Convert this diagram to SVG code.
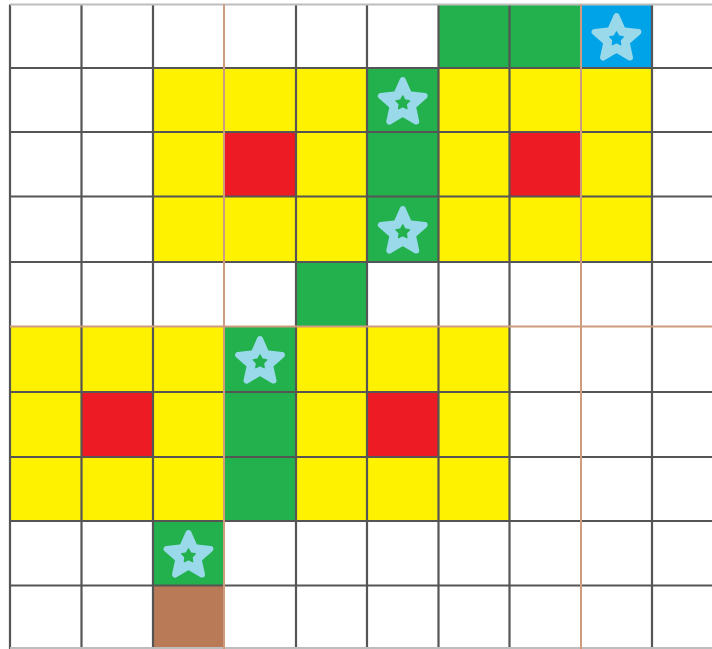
<svg xmlns="http://www.w3.org/2000/svg" xmlns:xlink="http://www.w3.org/1999/xlink" width="712" height="649" viewBox="0 0 712 649">
<style>
.y{fill:#FFF200}.r{fill:#ED1C24}.g{fill:#22B14C}.b{fill:#00A2E8}.br{fill:#B97A57}
.gl{stroke:#555555;stroke-width:2.2;fill:none}
.ol{stroke:#CF9B7F;stroke-width:2;fill:none}
.star{fill:#99D9EA;stroke:#99D9EA;stroke-width:6;stroke-linejoin:round}
.hole{stroke-width:1.2;stroke-linejoin:round}
</style>
<defs>
<path id="star" class="star" d="M0,-23 L6.3,-8.7 L21.9,-7.1 L10.2,3.3 L13.5,18.6 L0,10.7 L-13.5,18.6 L-10.2,3.3 L-21.9,-7.1 L-6.3,-8.7 Z"/>
<path id="hole" d="M0,-7.2 L2.23,-3.07 L6.85,-2.22 L3.61,1.17 L4.23,5.82 L0,3.8 L-4.23,5.82 L-3.61,1.17 L-6.85,-2.22 L-2.23,-3.07 Z"/>
</defs>
<rect width="712" height="649" fill="#ffffff"/>
<g id="cells">
<rect class="g" x="438.5" y="4.5" width="71" height="63.5"/>
<rect class="g" x="509.5" y="4.5" width="71.5" height="63.5"/>
<rect class="b" x="581" y="4.5" width="71" height="63.5"/>
<rect class="y" x="153" y="68" width="71" height="64"/>
<rect class="y" x="224" y="68" width="72" height="64"/>
<rect class="y" x="296" y="68" width="71" height="64"/>
<rect class="g" x="367" y="68" width="71.5" height="64"/>
<rect class="y" x="438.5" y="68" width="71" height="64"/>
<rect class="y" x="509.5" y="68" width="71.5" height="64"/>
<rect class="y" x="581" y="68" width="71" height="64"/>
<rect class="y" x="153" y="132" width="71" height="64.5"/>
<rect class="r" x="224" y="132" width="72" height="64.5"/>
<rect class="y" x="296" y="132" width="71" height="64.5"/>
<rect class="g" x="367" y="132" width="71.5" height="64.5"/>
<rect class="y" x="438.5" y="132" width="71" height="64.5"/>
<rect class="r" x="509.5" y="132" width="71.5" height="64.5"/>
<rect class="y" x="581" y="132" width="71" height="64.5"/>
<rect class="y" x="153" y="196.5" width="71" height="65.5"/>
<rect class="y" x="224" y="196.5" width="72" height="65.5"/>
<rect class="y" x="296" y="196.5" width="71" height="65.5"/>
<rect class="g" x="367" y="196.5" width="71.5" height="65.5"/>
<rect class="y" x="438.5" y="196.5" width="71" height="65.5"/>
<rect class="y" x="509.5" y="196.5" width="71.5" height="65.5"/>
<rect class="y" x="581" y="196.5" width="71" height="65.5"/>
<rect class="g" x="296" y="262" width="71" height="64.5"/>
<rect class="y" x="10" y="326.5" width="71.5" height="65.5"/>
<rect class="y" x="81.5" y="326.5" width="71.5" height="65.5"/>
<rect class="y" x="153" y="326.5" width="71" height="65.5"/>
<rect class="g" x="224" y="326.5" width="72" height="65.5"/>
<rect class="y" x="296" y="326.5" width="71" height="65.5"/>
<rect class="y" x="367" y="326.5" width="71.5" height="65.5"/>
<rect class="y" x="438.5" y="326.5" width="71" height="65.5"/>
<rect class="y" x="10" y="392" width="71.5" height="65"/>
<rect class="r" x="81.5" y="392" width="71.5" height="65"/>
<rect class="y" x="153" y="392" width="71" height="65"/>
<rect class="g" x="224" y="392" width="72" height="65"/>
<rect class="y" x="296" y="392" width="71" height="65"/>
<rect class="r" x="367" y="392" width="71.5" height="65"/>
<rect class="y" x="438.5" y="392" width="71" height="65"/>
<rect class="y" x="10" y="457" width="71.5" height="64"/>
<rect class="y" x="81.5" y="457" width="71.5" height="64"/>
<rect class="y" x="153" y="457" width="71" height="64"/>
<rect class="g" x="224" y="457" width="72" height="64"/>
<rect class="y" x="296" y="457" width="71" height="64"/>
<rect class="y" x="367" y="457" width="71.5" height="64"/>
<rect class="y" x="438.5" y="457" width="71" height="64"/>
<rect class="g" x="153" y="521" width="71" height="64.5"/>
<rect class="br" x="153" y="585.5" width="71" height="63.5"/>
</g>
<g id="grid">
<path class="gl" d="M10,4.5V649 M81.5,4.5V649 M153,4.5V649 M296,4.5V649 M367,4.5V649 M438.5,4.5V649 M509.5,4.5V649 M652,4.5V649"/>
<path class="gl" d="M10,68H712 M10,132H712 M10,196.5H712 M10,262H712 M10,392H712 M10,457H712 M10,521H712 M10,585.5H712"/>
<path d="M10,4.5H712 M10,648H712" stroke="#bdbdbd" stroke-width="2" fill="none"/>
<path class="ol" d="M224,4.5V649 M581,4.5V649 M10,326.5H712"/>
</g>
<g id="stars">
<g transform="translate(616.5,39)"><use xlink:href="#star"/><use xlink:href="#hole" class="hole" fill="#00A2E8" stroke="#00A2E8"/></g>
<g transform="translate(402.75,103)"><use xlink:href="#star"/><use xlink:href="#hole" class="hole" fill="#22B14C" stroke="#22B14C"/></g>
<g transform="translate(402.75,232)"><use xlink:href="#star"/><use xlink:href="#hole" class="hole" fill="#22B14C" stroke="#22B14C"/></g>
<g transform="translate(260,362)"><use xlink:href="#star"/><use xlink:href="#hole" class="hole" fill="#22B14C" stroke="#22B14C"/></g>
<g transform="translate(188.5,556)"><use xlink:href="#star"/><use xlink:href="#hole" class="hole" fill="#22B14C" stroke="#22B14C"/></g>
</g>
</svg>
